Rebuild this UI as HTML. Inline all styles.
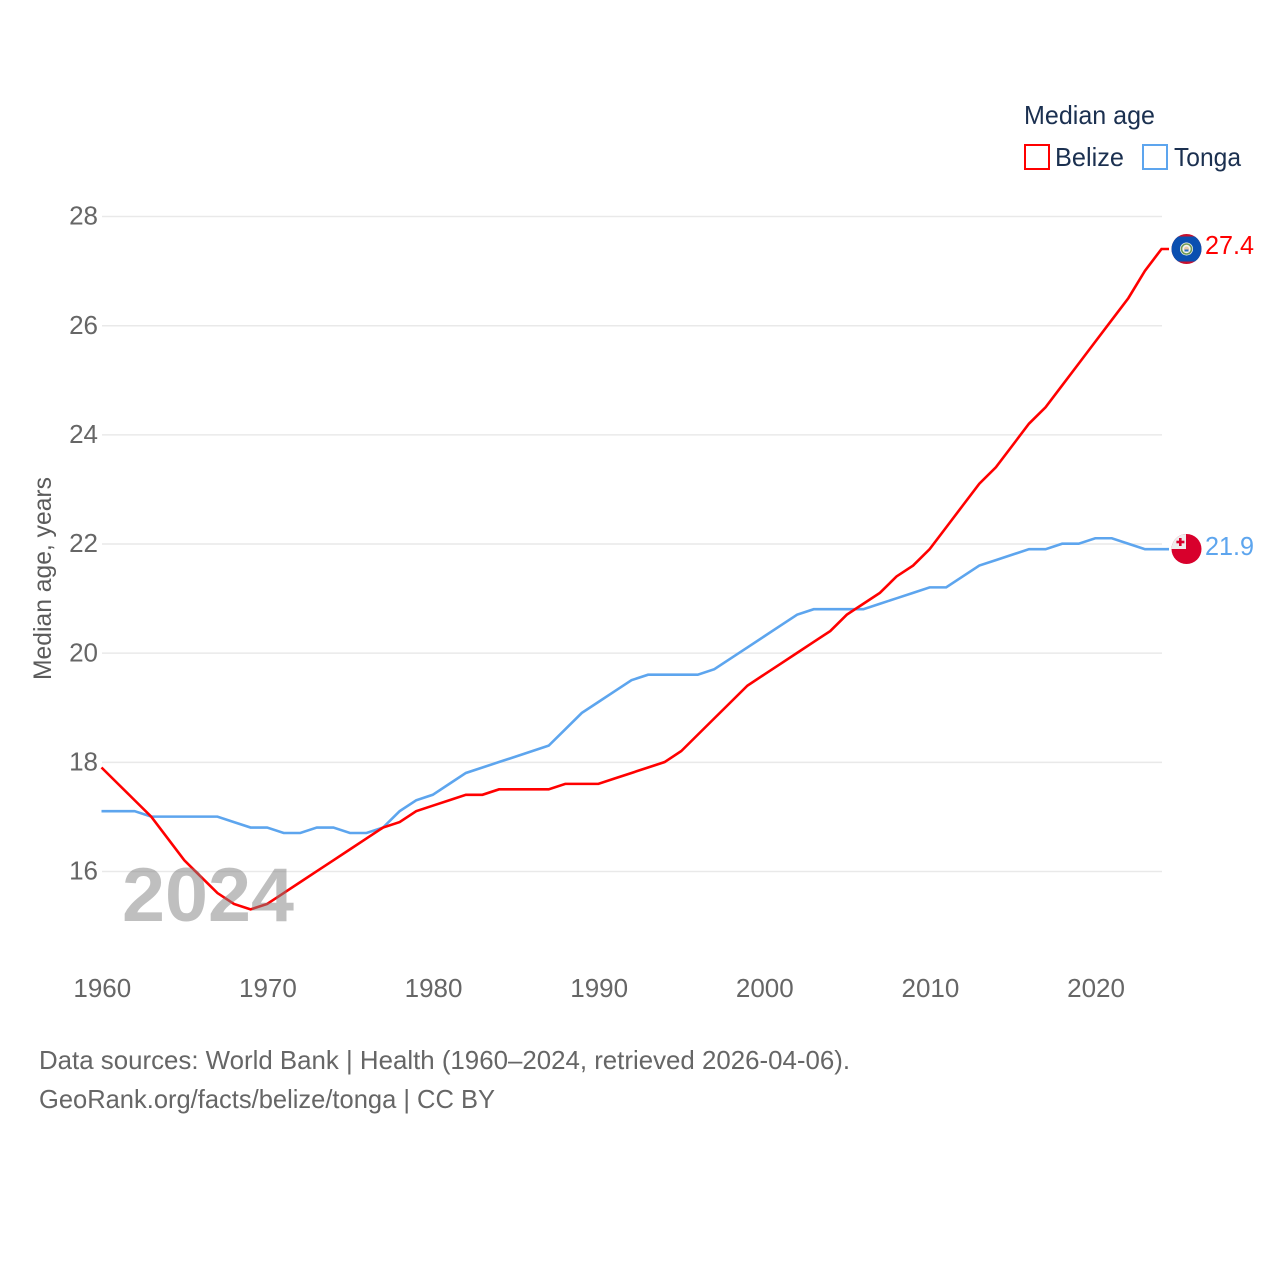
<!DOCTYPE html>
<html lang="en">
<head>
<meta charset="utf-8">
<title>Median age: Belize and Tonga</title>
<style>
html,body{margin:0;padding:0;background:#fff;width:1280px;height:1280px;overflow:hidden}
svg{display:block}
text{font-family:"Liberation Sans",sans-serif}
</style>
</head>
<body>
<svg id="chart" width="1280" height="1280" viewBox="0 0 1280 1280" xmlns="http://www.w3.org/2000/svg">
  <defs>
    <clipPath id="flag-clip-belize"><circle cx="1186.5" cy="249" r="15"/></clipPath>
    <clipPath id="flag-clip-tonga"><circle cx="1186.5" cy="549" r="15"/></clipPath>
  </defs>
  <rect x="0" y="0" width="1280" height="1280" fill="#ffffff"/>
  <g id="grid"></g>
  <g id="yticks"></g>
  <g id="xticks"></g>
  <text transform="translate(51,680) rotate(-90)" font-size="25" fill="#5b5b5b" textLength="203" lengthAdjust="spacingAndGlyphs">Median age, years</text>
  <g id="series"></g>
  <text x="122" y="921" font-size="76" font-weight="bold" fill="#808080" fill-opacity="0.5" textLength="172" lengthAdjust="spacingAndGlyphs">2024</text>

  <g>
    <text x="1024" y="124" font-size="26" fill="#1b3050" textLength="131" lengthAdjust="spacingAndGlyphs">Median age</text>
    <rect x="1025" y="145" width="24" height="24" fill="#fff" stroke="#ff0000" stroke-width="2"/>
    <text x="1055" y="166" font-size="26" fill="#1b3050" textLength="69" lengthAdjust="spacingAndGlyphs">Belize</text>
    <rect x="1143" y="145" width="24" height="24" fill="#fff" stroke="#5da5ee" stroke-width="2"/>
    <text x="1174" y="166" font-size="26" fill="#1b3050" textLength="67" lengthAdjust="spacingAndGlyphs">Tonga</text>
  </g>

  <g clip-path="url(#flag-clip-belize)">
    <rect x="1171" y="234" width="31" height="30" fill="#c8102e"/>
    <rect x="1171" y="236.500" width="31" height="25" fill="#0a4fb0"/>
    <circle cx="1186.500" cy="249" r="6.500" fill="#f4f4ee"/>
    <circle cx="1186.500" cy="249" r="5" fill="none" stroke="#6f9a55" stroke-width="1.600"/>
    <circle cx="1186.500" cy="249" r="2.500" fill="#e8c9a8"/>
    <rect x="1184.500" y="249.500" width="4" height="2" fill="#2a6fc0"/>
  </g>
  <text x="1205" y="254" font-size="26" fill="#ff0000" textLength="49" lengthAdjust="spacingAndGlyphs">27.4</text>

  <g clip-path="url(#flag-clip-tonga)">
    <rect x="1171" y="534" width="31" height="30" fill="#d8002c"/>
    <rect x="1171" y="534" width="15" height="15" fill="#eeeeee"/>
    <rect x="1179" y="538" width="2.600" height="8" fill="#d8002c"/>
    <rect x="1176.400" y="540.700" width="8" height="2.600" fill="#d8002c"/>
  </g>
  <text x="1205" y="555" font-size="26" fill="#5da5ee" textLength="49" lengthAdjust="spacingAndGlyphs">21.9</text>

  <text x="39" y="1069" font-size="26" fill="#666666" textLength="811" lengthAdjust="spacingAndGlyphs">Data sources: World Bank | Health (1960–2024, retrieved 2026-04-06).</text>
  <text x="39" y="1108" font-size="26" fill="#666666" textLength="456" lengthAdjust="spacingAndGlyphs">GeoRank.org/facts/belize/tonga | CC BY</text>
</svg>
<script>
const firstYear = 1960;
const lastYear = 2024;
const xTickYears = [1960, 1970, 1980, 1990, 2000, 2010, 2020];
const yTickValues = [16, 18, 20, 22, 24, 26, 28];
const belizeValues = [17.9,17.6,17.3,17.0,16.6,16.2,15.9,15.6,15.4,15.3,15.4,15.6,15.8,16.0,16.2,16.4,16.6,16.8,16.9,17.1,17.2,17.3,17.4,17.4,17.5,17.5,17.5,17.5,17.6,17.6,17.6,17.7,17.8,17.9,18.0,18.2,18.5,18.8,19.1,19.4,19.6,19.8,20.0,20.2,20.4,20.7,20.9,21.1,21.4,21.6,21.9,22.3,22.7,23.1,23.4,23.8,24.2,24.5,24.9,25.3,25.7,26.1,26.5,27.0,27.4];
const tongaValues = [17.1,17.1,17.1,17.0,17.0,17.0,17.0,17.0,16.9,16.8,16.8,16.7,16.7,16.8,16.8,16.7,16.7,16.8,17.1,17.3,17.4,17.6,17.8,17.9,18.0,18.1,18.2,18.3,18.6,18.9,19.1,19.3,19.5,19.6,19.6,19.6,19.6,19.7,19.9,20.1,20.3,20.5,20.7,20.8,20.8,20.8,20.8,20.9,21.0,21.1,21.2,21.2,21.4,21.6,21.7,21.8,21.9,21.9,22.0,22.0,22.1,22.1,22.0,21.9,21.9];

const NS = 'http://www.w3.org/2000/svg';
const plotLeft = 101.5;
const plotRight = 1161.5;
const flagLeadX = 1169;
function xScale(year) {
  return plotLeft + (year - firstYear) * (plotRight - plotLeft) / (lastYear - firstYear);
}
function yScale(value) {
  return 871.2 - (value - 16) * 54.58;
}
function seriesPath(values) {
  let d = '';
  values.forEach(function (v, i) {
    d += (i === 0 ? 'M' : 'L') + xScale(firstYear + i).toFixed(2) + ' ' + yScale(v).toFixed(2);
  });
  d += 'L' + flagLeadX + ' ' + yScale(values[values.length - 1]).toFixed(2);
  return d;
}

const gridGroup = document.getElementById('grid');
const yGroup = document.getElementById('yticks');
yTickValues.forEach(function (v) {
  const line = document.createElementNS(NS, 'line');
  
  
  line.setAttribute('x1', 102);
  line.setAttribute('x2', 1162);
  line.setAttribute('y1', yScale(v) + 0.3);
  line.setAttribute('y2', yScale(v) + 0.3);
  line.setAttribute('stroke', '#e9e9e9');
  line.setAttribute('stroke-width', '1.5');
  gridGroup.appendChild(line);

  const label = document.createElementNS(NS, 'text');
  
  
  label.setAttribute('x', 98);
  label.setAttribute('y', yScale(v) + 8.5);
  label.setAttribute('text-anchor', 'end');
  label.setAttribute('font-size', '26');
  label.setAttribute('fill', '#666666');
  label.textContent = String(v);
  yGroup.appendChild(label);
});

const xGroup = document.getElementById('xticks');
xTickYears.forEach(function (year) {
  const label = document.createElementNS(NS, 'text');
  
  
  label.setAttribute('x', xScale(year) + 0.8);
  label.setAttribute('y', 997);
  label.setAttribute('text-anchor', 'middle');
  label.setAttribute('font-size', '26');
  label.setAttribute('fill', '#666666');
  label.textContent = String(year);
  xGroup.appendChild(label);
});

const seriesGroup = document.getElementById('series');
const tongaLine = document.createElementNS(NS, 'path');


tongaLine.setAttribute('d', seriesPath(tongaValues));
tongaLine.setAttribute('fill', 'none');
tongaLine.setAttribute('stroke', '#5da5ee');
tongaLine.setAttribute('stroke-width', '2.6');
seriesGroup.appendChild(tongaLine);

const belizeLine = document.createElementNS(NS, 'path');


belizeLine.setAttribute('d', seriesPath(belizeValues));
belizeLine.setAttribute('fill', 'none');
belizeLine.setAttribute('stroke', '#ff0000');
belizeLine.setAttribute('stroke-width', '2.6');
seriesGroup.appendChild(belizeLine);
</script>
</body>
</html>
